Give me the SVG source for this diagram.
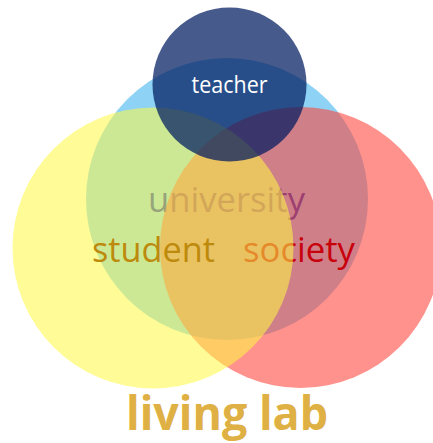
<svg xmlns="http://www.w3.org/2000/svg" width="433" height="443" viewBox="0 0 433 443">
<style>
text{font-family:"Open Sans","Noto Sans","Liberation Sans",sans-serif;text-anchor:middle}
.lbl{font-size:34px}
</style>
<rect width="433" height="443" fill="#ffffff"/>
<g id="connectors"/>
<g id="university">
<circle cx="227" cy="199" r="141" fill="#8ed2f5"/>
<text class="lbl" x="226.5" y="212" fill="#143cbe" textLength="157" lengthAdjust="spacingAndGlyphs">university</text>
</g>
<g id="society">
<circle cx="300.5" cy="247.5" r="140.5" fill="#ff4339" fill-opacity="0.58"/>
<text class="lbl" x="299" y="262" fill="#c8000c" textLength="112" lengthAdjust="spacingAndGlyphs">society</text>
</g>
<g id="student">
<circle cx="153" cy="248" r="140.5" fill="#fff943" fill-opacity="0.55"/>
<text class="lbl" x="153.5" y="262" fill="#bd8a0c" textLength="123" lengthAdjust="spacingAndGlyphs">student</text>
</g>
<g id="teacher">
<circle cx="229.5" cy="84.5" r="77" fill="#001a5f" fill-opacity="0.72"/>
<text x="229.5" y="93" fill="#ffffff" font-size="23" textLength="76" lengthAdjust="spacingAndGlyphs">teacher</text>
</g>
<g id="title">
<text x="227" y="430" fill="#dfb043" font-size="47" font-weight="bold" textLength="202" lengthAdjust="spacingAndGlyphs">living lab</text>
</g>
</svg>
